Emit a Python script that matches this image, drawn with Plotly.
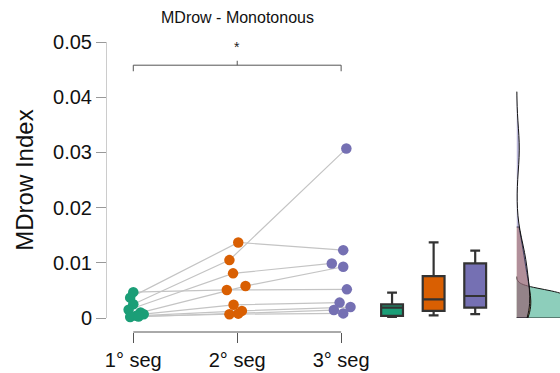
import plotly.graph_objects as go

# ---------------- data ----------------
groups = ["1° seg", "2° seg", "3° seg"]
colors = ["#1b9e77", "#d95f02", "#7570b3"]

# one value per subject (9 subjects), paired across segments
seg1 = [0.0047, 0.0037, 0.0025, 0.0015, 0.0010, 0.0007, 0.0004, 0.0002, 0.0003]
seg2 = [0.0051, 0.0137, 0.0105, 0.0081, 0.0058, 0.0024, 0.0013, 0.0008, 0.0007]
seg3 = [0.0052, 0.0123, 0.0307, 0.0099, 0.0093, 0.0028, 0.0020, 0.00145, 0.00085]

# horizontal jitter (in category units) of each point
jit1 = [0.00, -0.03, 0.00, -0.045, 0.07, 0.10, 0.03, -0.03, 0.05]
jit2 = [-0.10, 0.01, -0.075, -0.04, 0.08, -0.035, 0.045, 0.01, -0.075]
jit3 = [0.055, 0.02, 0.05, -0.09, 0.02, -0.015, 0.09, -0.07, 0.02]

# box statistics
box_q1 = [0.0004, 0.0013, 0.0019]
box_med = [0.0019, 0.0034, 0.0040]
box_q3 = [0.0025, 0.0076, 0.0099]
box_lo = [0.0002, 0.0005, 0.0007]
box_hi = [0.0046, 0.0137, 0.0122]

# density span upper ends and kernel bandwidths
dens_top = [0.0075, 0.0165, 0.0410]
dens_bw = [0.0008, 0.0031, 0.0040]

title = "MDrow - Monotonous"
ytitle = "MDrow Index"
sig_label = "*"

# ---------------- figure ----------------
fig = go.Figure()
data = [seg1, seg2, seg3]
jits = [jit1, jit2, jit3]
n = len(seg1)

# paired lines
for i in range(n):
    fig.add_trace(go.Scatter(
        x=[k + 1 + jits[k][i] for k in range(3)],
        y=[data[k][i] for k in range(3)],
        mode="lines", line=dict(color="#c4c4c4", width=1.2),
        hoverinfo="skip", showlegend=False, cliponaxis=False))

# points
for k in range(3):
    fig.add_trace(go.Scatter(
        x=[k + 1 + j for j in jits[k]], y=data[k], mode="markers",
        marker=dict(color=colors[k], size=10.5, line=dict(width=0)),
        showlegend=False, cliponaxis=False))

# box plots
box_pos = [3.49, 3.89, 4.29]
for k in range(3):
    fig.add_trace(go.Box(
        x=[box_pos[k]], q1=[box_q1[k]], median=[box_med[k]], q3=[box_q3[k]],
        lowerfence=[box_lo[k]], upperfence=[box_hi[k]],
        fillcolor=colors[k], line=dict(color="#333333", width=2.2),
        width=0.21, whiskerwidth=0.45, boxpoints=False, showlegend=False))

# half-violin densities (green at the back, purple on top)
fills = ["rgba(27,158,119,0.5)", "rgba(217,95,2,0.5)", "rgba(117,112,179,0.5)"]
vwidth = [2.7, 0.27, 0.25]
for k in [0, 1, 2]:
    fig.add_trace(go.Violin(
        y=data[k], x0=4.69, side="positive", width=vwidth[k],
        scalegroup="d%d" % k, scalemode="width", bandwidth=dens_bw[k],
        spanmode="manual", span=[0, dens_top[k]],
        fillcolor=fills[k], line=dict(color="#111111", width=1),
        points=False, showlegend=False, hoverinfo="skip"))

# significance bracket
yb = 0.0458
br = dict(type="line", xref="x", yref="y", line=dict(color="#555555", width=1))
fig.add_shape(x0=1, x1=3, y0=yb, y1=yb, **br)
fig.add_shape(x0=1, x1=1, y0=yb, y1=yb - 0.0011, **br)
fig.add_shape(x0=3, x1=3, y0=yb, y1=yb - 0.0011, **br)
fig.add_shape(x0=2, x1=2, y0=yb, y1=yb + 0.0008, **br)
fig.add_annotation(x=2, y=yb + 0.0014, xref="x", yref="y", text=sig_label,
                   showarrow=False, font=dict(size=14, color="#222222"),
                   yanchor="bottom")

# x-axis line spanning only the categories
fig.add_shape(type="line", xref="x", yref="paper", x0=1, x1=3, y0=0, y1=0,
              line=dict(color="#555555", width=1))

# title
fig.add_annotation(x=2, y=1.083, xref="x", yref="paper", text=title,
                   showarrow=False, font=dict(size=16, color="#111111"),
                   yanchor="middle")

fig.update_layout(
    width=560, height=373,
    margin=dict(l=107, r=0, t=42, b=41),
    paper_bgcolor="white", plot_bgcolor="white",
    font=dict(family="Liberation Sans, Arial, sans-serif", color="#111111"),
    boxmode="overlay", violinmode="overlay",
    xaxis=dict(range=[0.747, 5.106], tickvals=[1, 2, 3], ticktext=groups,
               ticks="outside", ticklen=10, tickcolor="#555555",
               showline=False, showgrid=False, zeroline=False,
               anchor="free", position=0,
               tickfont=dict(size=20, color="#111111")),
    yaxis=dict(range=[0, 0.05], domain=[0.048, 1], dtick=0.01,
               ticks="outside", ticklen=10, tickcolor="#999999",
               showline=True, linecolor="#cccccc", linewidth=1,
               showgrid=False, zeroline=False,
               title=dict(text=ytitle, font=dict(size=24, color="#111111"),
                          standoff=12),
               tickfont=dict(size=20, color="#111111")),
)

fig.write_html("out.html")
